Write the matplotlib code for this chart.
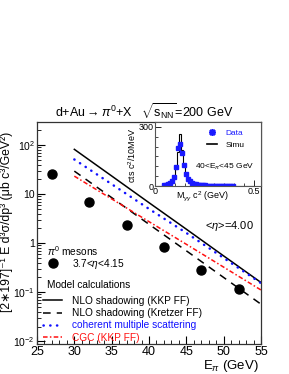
import matplotlib
matplotlib.use("Agg")
import matplotlib.pyplot as plt
from matplotlib.lines import Line2D
import numpy as np

plt.rcParams['font.family'] = ['Liberation Sans', 'DejaVu Sans']
plt.rcParams['mathtext.fontset'] = 'custom'
plt.rcParams['mathtext.rm'] = 'Liberation Sans'
plt.rcParams['mathtext.it'] = 'Liberation Sans:italic'
plt.rcParams['mathtext.sf'] = 'Liberation Sans'

# ---- data ----
pt_E = [27, 32, 37, 42, 47, 52]
pt_xs = [25.2, 6.9, 2.4, 0.82, 0.285, 0.119]

model_E = [30, 35, 40, 45, 50, 55]
nlo_kkp = [82, 23.5, 6.7, 1.93, 0.55, 0.158]
nlo_kretzer = [29.5, 8.5, 2.43, 0.70, 0.20, 0.057]
coherent = [51, 16.0, 5.0, 1.62, 0.50, 0.153]
cgc = [23.3, 8.0, 2.75, 0.95, 0.325, 0.111]

x_ticks = [25, 30, 35, 40, 45, 50, 55]

# inset: invariant mass spectrum
m_edges = np.round(np.arange(0.0, 0.501, 0.01), 3)
simu_counts = [0, 0, 0, 2, 4, 6, 9, 14, 24, 45,
               85, 175, 265, 185, 110, 62, 38, 25, 17, 12,
               9, 7, 6, 5, 4, 3, 3, 2, 2, 2,
               2, 1, 1, 1, 1, 1, 1, 1, 1, 1,
               0, 0, 0, 0, 0, 0, 0, 0, 0, 0]
data_m = [0.045, 0.055, 0.065, 0.075, 0.085, 0.095, 0.105, 0.115, 0.125, 0.135,
          0.145, 0.155, 0.165, 0.175, 0.185, 0.195, 0.205, 0.215, 0.225, 0.235,
          0.245, 0.255, 0.265, 0.275, 0.285, 0.295, 0.305, 0.315, 0.325, 0.335,
          0.345, 0.355, 0.365, 0.375, 0.385, 0.395]
data_counts = [4, 6, 10, 15, 25, 48, 95, 195, 215, 170,
               105, 60, 38, 25, 17, 12, 8, 6, 5, 4,
               3, 3, 2, 2, 2, 2, 2, 1, 1, 2,
               1, 1, 1, 1, 1, 1]

W, H = 289, 374
fig = plt.figure(figsize=(W / 100, H / 100), dpi=100)

def fx(px):
    return px / W

def fy(py):
    return 1 - py / H

L, R, T, B = 37, 261, 122, 344
ax = fig.add_axes([fx(L), fy(B), fx(R) - fx(L), fy(T) - fy(B)])
ax.set_yscale('log')
ax.set_xlim(25, 55)
ax.set_ylim(0.0088, 296)

BLUE = '#1010ff'
RED = '#ff1010'
ax.plot(model_E, nlo_kkp, color='black', lw=1.1, ls='-')
ax.plot(model_E, nlo_kretzer, color='black', lw=1.1, ls=(0, (5, 4)))
ax.plot(model_E, coherent, color=BLUE, lw=1.8, ls=(0, (0.1, 2.6)),
        dash_capstyle='round')
ax.plot(model_E, cgc, color=RED, lw=1.1, ls=(0, (3, 1.5, 1, 1.5)))
ax.plot(pt_E, pt_xs, 'o', color='black', ms=6.5, ls='none')

ax.set_xticks(x_ticks)
ax.set_xticks(np.arange(25, 56, 1), minor=True)
ax.tick_params(axis='x', which='major', labelsize=9, pad=1.5)
ax.tick_params(axis='y', which='major', labelsize=7.5, pad=1.5)
ax.tick_params(axis='both', which='major', direction='in', length=6,
               top=False, right=False, width=0.8)
ax.tick_params(axis='both', which='minor', direction='in', length=3,
               top=False, right=False, width=0.6)
ax.set_yticks([0.01, 0.1, 1, 10, 100])
ax.set_yticklabels([r'$10^{-2}$', r'$10^{-1}$', '1', '10', r'$10^{2}$'])
for s in ax.spines.values():
    s.set_linewidth(0.9)
    s.set_color('#333333')

fig.text(fx(259), fy(366), r'E$_{\pi}$ (GeV)', ha='right', va='center',
         fontsize=9.5)
fig.text(fx(7), fy(222),
         '[2\u2217197]\u207b\u00b9 E d\u00b3\u03c3/dp\u00b3 (\u03bcb c\u00b3/GeV\u00b2)',
         rotation=90, ha='center', va='center', fontsize=8.8)
fig.text(fx(144), fy(112),
         r'd+Au$\rightarrow\pi^{0}$+X   $\sqrt{\mathrm{s}_{\mathrm{NN}}}$=200 GeV',
         ha='center', va='center', fontsize=9)
fig.text(fx(229), fy(226), r'<$\eta$>=4.00', ha='center', va='center',
         fontsize=8)

# legend headers
fig.text(fx(47), fy(251), r'$\pi^{0}$ mesons', ha='left', va='center',
         fontsize=7.3)
fig.text(fx(47), fy(285), 'Model calculations', ha='left', va='center',
         fontsize=7.3)

h_pt = [Line2D([], [], marker='o', color='black', ms=6.5, ls='none')]
leg1 = ax.legend(h_pt, [r'3.7<$\eta$<4.15'], loc='center left',
                 bbox_to_anchor=((43 - L) / (R - L), (B - 264) / (B - T)),
                 frameon=False, fontsize=7.3, handlelength=1.9,
                 handletextpad=1.0, borderpad=0, borderaxespad=0)
ax.add_artist(leg1)

h_mod = [Line2D([], [], color='black', lw=1.1, ls='-'),
         Line2D([], [], color='black', lw=1.1, ls=(0, (5, 4))),
         Line2D([], [], color=BLUE, lw=1.8, ls=(0, (0.1, 2.6)),
                dash_capstyle='round'),
         Line2D([], [], color=RED, lw=1.1, ls=(0, (3, 1.5, 1, 1.5)))]
lab_mod = ['NLO shadowing (KKP FF)', 'NLO shadowing (Kretzer FF)',
           'coherent multiple scattering', 'CGC (KKP FF)']
leg2 = ax.legend(h_mod, lab_mod, loc='upper left',
                 bbox_to_anchor=((43 - L) / (R - L), (B - 296) / (B - T)),
                 frameon=False, fontsize=7.3, handlelength=1.9,
                 handletextpad=1.0, borderpad=0, borderaxespad=0,
                 labelspacing=0.22)
for t, c in zip(leg2.get_texts(), ['black', 'black', BLUE, RED]):
    t.set_color(c)

# ---- inset ----
iL, iR, iT, iB = 155, 261, 122, 186
ax2 = fig.add_axes([fx(iL), fy(iB), fx(iR) - fx(iL), fy(iT) - fy(iB)])
ax2.set_xlim(0, 0.536)
ax2.set_ylim(0, 325)
ax2.stairs(simu_counts, m_edges, color='black', lw=0.8)
ax2.plot(data_m, data_counts, 's', color='#1a1aff', ms=2.6, ls='none')
ax2.set_xticks([0, 0.5])
ax2.set_xticklabels(['0', '0.5'])
ax2.set_xticks(np.arange(0, 0.51, 0.05), minor=True)
ax2.set_yticks([0, 300])
ax2.set_yticks(np.arange(0, 301, 50), minor=True)
ax2.tick_params(axis='both', which='major', direction='in', length=4,
                labelsize=6.5, pad=1, width=0.6)
ax2.tick_params(axis='both', which='minor', direction='in', length=2,
                width=0.5)
for s in ax2.spines.values():
    s.set_linewidth(0.8)
    s.set_color('#555555')
fig.text(fx(132), fy(155), r'cts c$^{2}$/10MeV', rotation=90, ha='center',
         va='center', fontsize=6.5)
fig.text(fx(202), fy(196), r'M$_{\gamma\gamma}$ c$^{2}$ (GeV)', ha='center',
         va='center', fontsize=6.5)
fig.text(fx(225), fy(167), r'40<E$_{\pi}$<45 GeV', ha='center', va='center',
         fontsize=6)
h_in = [Line2D([], [], marker=(8, 2, 0), color='#1a1aff', ms=5, ls='none',
               mew=1.2),
        Line2D([], [], color='black', lw=1.2)]
leg3 = ax2.legend(h_in, ['Data', 'Simu'], loc='upper left',
                  bbox_to_anchor=((207 - iL) / (iR - iL), (iB - 129) / (iB - iT)),
                  frameon=False, fontsize=6, handlelength=1.2,
                  handletextpad=1.0, borderpad=0, borderaxespad=0,
                  labelspacing=0.5)
leg3.get_texts()[0].set_color('#1a1aff')

fig.savefig('out.png', dpi=100)
